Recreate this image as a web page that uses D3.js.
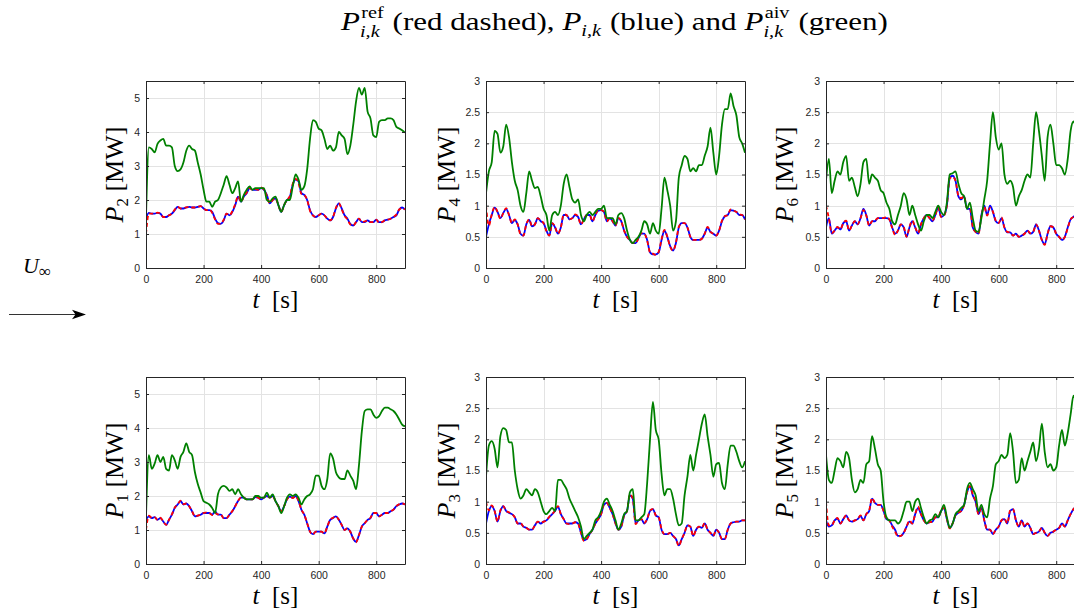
<!DOCTYPE html>
<html>
<head>
<meta charset="utf-8">
<script src="https://cdn.jsdelivr.net/npm/d3@7"></script>
<style>
  body { margin: 0; background: #fff; }
  svg { display: block; }
  text { white-space: pre; }
</style>
</head>
<body>
<svg id="fig" width="1074" height="609"></svg>
<script>
// ---- sample times (s) and tick definitions ----
const time = d3.range(0, 901, 10);
const timeTicks = [0, 200, 400, 600, 800];
const timeTickLabels = ["0", "200", "400", "600", "800"];
const powerTicksHigh = [0, 1, 2, 3, 4, 5];
const powerTickLabelsHigh = ["0", "1", "2", "3", "4", "5"];
const powerTicksLow = [0, 0.5, 1, 1.5, 2, 2.5, 3];
const powerTickLabelsLow = ["0", "0.5", "1", "1.5", "2", "2.5", "3"];

// ---- turbine 2 ----
const p2Aiv = [1.5,3.55,3.5,3.4,3.65,3.75,3.8,3.6,3.6,3.55,
  3.0,2.85,2.9,3.1,3.45,3.6,3.5,3.45,3.1,2.75,
  2.3,1.95,1.95,1.8,1.95,2.0,2.2,2.45,2.7,2.45,
  2.2,2.35,2.55,1.95,2.15,2.3,2.4,2.3,2.35,2.35,
  2.35,2.35,2.0,1.95,2.05,2.1,1.85,1.65,1.85,2.0,
  2.0,2.4,2.75,2.6,2.3,2.4,2.9,3.8,4.35,4.3,
  4.1,4.05,3.8,3.5,3.6,3.45,3.55,4.0,3.9,3.8,
  3.35,3.6,4.2,4.9,5.3,5.1,5.3,4.6,4.4,3.9,
  3.85,4.3,4.35,4.35,4.4,4.4,4.35,4.15,4.1,4.05,
  3.98];
const p2Power = [1.45,1.62,1.6,1.6,1.62,1.6,1.5,1.5,1.55,1.6,
  1.7,1.8,1.75,1.75,1.78,1.8,1.78,1.78,1.8,1.82,
  1.75,1.7,1.7,1.65,1.45,1.32,1.3,1.4,1.6,1.55,
  1.65,1.85,2.1,1.95,2.1,2.2,2.35,2.3,2.3,2.3,
  2.35,2.3,2.15,1.9,2.0,2.05,1.85,1.65,1.85,2.0,
  2.1,2.45,2.6,2.55,2.2,2.15,2.0,1.7,1.55,1.5,
  1.55,1.6,1.55,1.45,1.4,1.5,1.75,1.9,1.75,1.55,
  1.45,1.3,1.25,1.35,1.45,1.35,1.35,1.4,1.35,1.35,
  1.42,1.35,1.35,1.4,1.42,1.45,1.5,1.55,1.72,1.78,
  1.72];
const p2Ref = [1.0,1.6,1.6,1.6,1.63,1.6,1.5,1.5,1.55,1.6,
  1.72,1.8,1.75,1.76,1.78,1.8,1.78,1.78,1.8,1.82,
  1.75,1.7,1.72,1.62,1.43,1.3,1.3,1.42,1.6,1.55,
  1.67,1.88,2.12,1.95,2.1,2.22,2.35,2.3,2.32,2.3,
  2.37,2.3,2.12,1.9,2.0,2.05,1.85,1.65,1.85,2.0,
  2.12,2.48,2.62,2.5,2.18,2.15,2.0,1.68,1.55,1.5,
  1.55,1.6,1.55,1.45,1.4,1.5,1.77,1.9,1.73,1.53,
  1.43,1.28,1.25,1.35,1.45,1.35,1.37,1.4,1.35,1.36,
  1.42,1.33,1.35,1.4,1.42,1.45,1.5,1.57,1.72,1.76,
  1.72];

// ---- turbine 4 ----
const p4Aiv = [1.2,1.55,1.7,2.2,2.15,1.85,1.95,2.3,2.1,1.7,
  1.4,1.25,1.0,0.9,1.2,1.55,1.4,1.28,1.3,1.15,
  0.95,0.85,0.6,0.85,0.9,0.85,1.0,1.35,1.5,1.3,
  1.1,1.05,1.1,0.85,0.75,0.85,0.9,0.85,0.9,0.95,
  0.95,1.0,0.8,0.8,0.8,0.7,0.85,0.88,0.8,0.6,
  0.45,0.4,0.45,0.5,0.6,0.75,0.7,0.55,0.72,0.6,
  0.55,0.95,1.45,1.25,1.0,0.6,0.75,1.45,1.65,1.8,
  1.75,1.55,1.6,1.55,1.65,1.65,1.8,1.95,2.25,1.85,
  1.5,1.8,2.3,2.55,2.55,2.8,2.6,2.45,2.1,2.0,
  1.85];
const p4Power = [0.5,0.7,0.85,0.97,0.9,0.8,0.88,0.95,0.85,0.72,
  0.77,0.7,0.55,0.52,0.7,0.77,0.67,0.7,0.8,0.75,
  0.72,0.6,0.52,0.72,0.65,0.55,0.65,0.85,0.85,0.78,
  0.8,0.85,0.82,0.7,0.78,0.85,0.85,0.75,0.85,0.92,
  0.93,0.9,0.75,0.8,0.75,0.68,0.8,0.75,0.6,0.5,
  0.45,0.4,0.4,0.48,0.55,0.55,0.45,0.25,0.22,0.22,
  0.25,0.45,0.6,0.5,0.35,0.28,0.4,0.65,0.72,0.72,
  0.65,0.5,0.45,0.45,0.45,0.47,0.55,0.65,0.58,0.55,
  0.52,0.6,0.75,0.83,0.85,0.93,0.92,0.9,0.85,0.85,
  0.78];
const p4Ref = [1.0,0.68,0.86,0.98,0.9,0.79,0.88,0.96,0.85,0.72,
  0.78,0.7,0.54,0.52,0.7,0.78,0.67,0.7,0.8,0.76,
  0.72,0.59,0.52,0.72,0.66,0.55,0.65,0.86,0.85,0.78,
  0.8,0.86,0.82,0.7,0.78,0.85,0.85,0.75,0.85,0.93,
  0.93,0.9,0.75,0.8,0.75,0.68,0.8,0.75,0.6,0.5,
  0.45,0.4,0.4,0.48,0.56,0.55,0.44,0.25,0.23,0.21,
  0.26,0.46,0.61,0.5,0.34,0.28,0.41,0.66,0.72,0.72,
  0.65,0.5,0.45,0.45,0.45,0.47,0.55,0.66,0.58,0.55,
  0.52,0.6,0.76,0.83,0.85,0.94,0.92,0.9,0.86,0.85,
  0.78];

// ---- turbine 6 ----
const p6Aiv = [1.4,1.75,1.2,1.4,1.55,1.5,1.7,1.8,1.4,1.45,
  1.3,1.15,1.35,1.7,1.75,1.35,1.5,1.45,1.4,1.25,
  1.2,1.05,0.95,0.75,0.7,0.85,1.0,1.2,1.1,0.85,
  1.0,0.85,0.7,0.6,0.75,0.85,0.85,0.8,0.9,1.0,
  0.9,0.85,1.05,1.5,1.52,1.55,1.35,1.2,1.15,0.95,
  1.05,0.8,0.6,0.58,0.8,1.1,1.4,2.0,2.5,2.1,
  1.9,2.0,1.5,1.35,1.4,1.3,1.0,1.15,1.25,1.4,
  1.5,1.45,2.0,2.5,2.2,1.8,1.4,2.1,2.3,2.0,
  1.65,1.65,1.6,1.5,1.75,2.2,2.35,2.25,2.2,2.25,
  2.3];
const p6Power = [0.65,0.8,0.55,0.6,0.65,0.62,0.72,0.75,0.6,0.68,
  0.75,0.7,0.8,0.95,0.85,0.68,0.75,0.75,0.8,0.8,
  0.8,0.8,0.78,0.65,0.55,0.6,0.7,0.65,0.5,0.65,
  0.75,0.65,0.55,0.7,0.8,0.85,0.8,0.75,0.85,0.98,
  0.82,0.85,1.0,1.45,1.48,1.4,1.15,1.1,1.15,0.95,
  0.95,0.65,0.58,0.55,0.85,1.0,0.85,1.0,0.9,0.75,
  0.72,0.8,0.65,0.57,0.57,0.52,0.55,0.5,0.52,0.55,
  0.6,0.55,0.58,0.7,0.6,0.45,0.38,0.55,0.67,0.65,
  0.55,0.5,0.45,0.5,0.65,0.78,0.82,0.85,0.85,0.85,
  0.85];
const p6Ref = [1.0,0.8,0.56,0.6,0.66,0.62,0.72,0.76,0.6,0.68,
  0.75,0.7,0.8,0.93,0.84,0.68,0.75,0.76,0.8,0.8,
  0.8,0.82,0.78,0.64,0.53,0.6,0.7,0.66,0.5,0.66,
  0.76,0.65,0.56,0.7,0.8,0.85,0.8,0.76,0.85,0.97,
  0.82,0.84,1.0,1.44,1.46,1.4,1.16,1.12,1.15,0.96,
  0.96,0.66,0.58,0.55,0.84,0.98,0.84,0.97,0.9,0.76,
  0.72,0.81,0.65,0.58,0.57,0.52,0.55,0.5,0.52,0.55,
  0.6,0.56,0.58,0.7,0.6,0.45,0.37,0.55,0.67,0.65,
  0.55,0.5,0.45,0.5,0.64,0.78,0.82,0.84,0.85,0.85,
  0.85];

// ---- turbine 1 ----
const p1Aiv = [1.4,3.2,2.8,2.95,3.2,3.0,3.15,2.8,2.75,3.2,
  3.05,2.8,3.15,3.3,3.55,3.3,3.2,2.7,2.35,2.1,
  1.85,1.8,1.75,1.65,1.5,2.05,2.25,2.3,2.25,2.15,
  2.2,2.05,2.2,2.05,1.95,1.9,1.9,1.9,2.0,2.0,
  1.95,1.95,2.1,1.95,2.05,1.85,1.7,1.5,1.7,1.95,
  2.05,2.0,2.05,1.95,1.75,1.9,2.0,2.05,2.2,2.6,
  2.6,2.3,2.2,2.5,3.25,3.1,2.7,2.55,2.5,2.5,
  2.75,2.6,2.45,2.2,2.9,3.9,4.5,4.55,4.55,4.4,
  4.3,4.35,4.5,4.6,4.6,4.55,4.5,4.4,4.25,4.1,
  4.05];
const p1Power = [1.3,1.4,1.35,1.38,1.3,1.35,1.25,1.15,1.3,1.45,
  1.65,1.75,1.85,1.75,1.78,1.7,1.55,1.4,1.42,1.45,
  1.5,1.5,1.5,1.45,1.55,1.45,1.45,1.35,1.35,1.45,
  1.55,1.7,1.85,1.95,1.95,1.9,1.9,1.9,1.97,1.95,
  1.9,1.95,2.0,1.95,2.0,1.85,1.7,1.55,1.7,1.9,
  1.98,1.95,2.0,1.85,1.6,1.45,1.2,0.95,0.88,0.95,
  0.95,0.95,0.9,1.1,1.3,1.35,1.4,1.3,1.15,1.0,
  1.05,0.95,0.75,0.65,0.85,1.1,1.2,1.3,1.35,1.5,
  1.5,1.4,1.45,1.5,1.5,1.55,1.6,1.7,1.75,1.78,
  1.75];
const p1Ref = [1.0,1.42,1.36,1.38,1.3,1.36,1.25,1.15,1.3,1.46,
  1.66,1.75,1.86,1.76,1.78,1.7,1.55,1.4,1.42,1.46,
  1.5,1.52,1.5,1.44,1.5,1.46,1.46,1.34,1.35,1.45,
  1.56,1.7,1.86,1.95,1.95,1.9,1.9,1.9,1.97,1.95,
  1.9,1.96,2.02,1.95,2.0,1.85,1.7,1.55,1.7,1.9,
  1.98,1.94,2.0,1.86,1.6,1.45,1.2,0.95,0.87,0.95,
  0.95,0.95,0.9,1.1,1.3,1.36,1.4,1.3,1.15,1.0,
  1.05,0.95,0.75,0.64,0.85,1.1,1.2,1.3,1.36,1.5,
  1.5,1.4,1.45,1.5,1.5,1.55,1.6,1.7,1.76,1.78,
  1.75];

// ---- turbine 3 ----
const p3Aiv = [1.4,1.9,1.97,1.85,1.55,2.05,2.18,2.15,1.95,1.95,
  1.5,1.2,1.05,1.1,1.2,1.15,1.1,1.2,1.15,1.0,
  0.85,0.8,0.85,0.9,0.85,1.35,1.35,1.28,1.2,1.05,
  0.95,0.85,0.75,0.6,0.4,0.45,0.5,0.55,0.7,0.75,
  0.85,1.0,1.05,0.95,0.85,0.7,0.55,0.65,0.8,0.85,
  1.15,1.2,0.7,0.7,0.75,0.8,1.3,2.0,2.6,2.15,
  2.0,1.45,1.1,1.2,1.2,1.05,0.8,0.62,0.65,1.1,
  1.4,1.75,1.5,1.75,2.0,2.25,2.4,2.05,1.75,1.4,
  1.6,1.62,1.3,1.2,1.6,1.9,1.9,1.8,1.65,1.55,
  1.65];
const p3Power = [0.65,0.85,0.93,0.85,0.68,0.85,0.93,0.85,0.82,0.8,
  0.75,0.65,0.65,0.6,0.58,0.55,0.55,0.62,0.68,0.65,
  0.68,0.7,0.75,0.8,0.85,0.92,0.8,0.72,0.65,0.65,
  0.65,0.67,0.65,0.5,0.38,0.4,0.48,0.55,0.65,0.72,
  0.8,0.95,0.98,0.9,0.8,0.65,0.55,0.6,0.78,0.85,
  1.1,1.05,0.65,0.7,0.72,0.65,0.72,0.85,0.88,0.78,
  0.75,0.55,0.48,0.48,0.5,0.45,0.4,0.3,0.4,0.5,
  0.62,0.6,0.45,0.55,0.6,0.58,0.65,0.55,0.5,0.45,
  0.55,0.5,0.4,0.4,0.55,0.65,0.67,0.68,0.68,0.7,
  0.7];
const p3Ref = [1.0,0.86,0.94,0.85,0.68,0.86,0.93,0.85,0.83,0.8,
  0.75,0.65,0.66,0.6,0.58,0.55,0.55,0.62,0.68,0.66,
  0.68,0.7,0.76,0.8,0.86,0.93,0.8,0.72,0.65,0.64,
  0.65,0.67,0.65,0.5,0.37,0.4,0.48,0.55,0.65,0.72,
  0.8,0.96,0.98,0.9,0.8,0.65,0.55,0.6,0.78,0.85,
  1.12,1.05,0.64,0.7,0.72,0.66,0.72,0.86,0.88,0.78,
  0.75,0.56,0.48,0.48,0.5,0.45,0.4,0.29,0.4,0.5,
  0.62,0.6,0.45,0.55,0.6,0.58,0.66,0.55,0.5,0.45,
  0.55,0.5,0.4,0.4,0.55,0.65,0.67,0.68,0.68,0.7,
  0.7];

// ---- turbine 5 ----
const p5Aiv = [1.75,1.35,1.3,1.5,1.7,1.65,1.55,1.8,1.7,1.35,
  1.15,1.2,1.35,1.3,1.6,1.65,2.05,1.85,1.6,1.5,
  1.0,0.75,0.7,0.7,0.7,0.65,0.7,0.85,1.0,1.0,
  0.85,1.0,1.05,0.9,0.75,0.65,0.7,0.72,0.8,0.75,
  0.85,0.95,0.75,0.58,0.65,0.8,0.85,0.9,0.95,1.2,
  1.3,1.2,1.1,0.85,0.95,0.8,0.75,1.05,1.25,1.6,
  1.65,1.75,1.7,1.75,2.1,1.8,1.3,1.35,1.7,1.5,
  1.65,1.8,1.95,1.65,1.85,2.25,1.8,1.55,1.6,1.5,
  1.55,1.9,2.15,1.9,2.1,2.4,2.7,2.6,2.55,2.55,
  2.6];
const p5Power = [0.7,0.6,0.62,0.7,0.73,0.65,0.72,0.78,0.7,0.68,
  0.7,0.72,0.77,0.7,0.8,0.85,1.05,0.98,0.95,0.95,
  0.85,0.72,0.7,0.62,0.55,0.45,0.45,0.5,0.6,0.68,
  0.65,0.8,0.9,0.8,0.7,0.65,0.67,0.68,0.75,0.75,
  0.85,0.9,0.72,0.58,0.65,0.78,0.82,0.85,0.95,1.15,
  1.25,1.1,1.0,0.8,0.9,0.7,0.55,0.55,0.48,0.55,
  0.6,0.7,0.72,0.65,0.85,0.88,0.7,0.6,0.7,0.6,
  0.65,0.58,0.48,0.5,0.52,0.58,0.5,0.45,0.5,0.52,
  0.55,0.58,0.65,0.6,0.7,0.8,0.88,0.92,0.95,0.95,
  0.95];
const p5Ref = [1.0,0.62,0.62,0.7,0.74,0.65,0.72,0.78,0.7,0.68,
  0.7,0.72,0.78,0.7,0.8,0.86,1.06,0.98,0.95,0.95,
  0.85,0.72,0.7,0.6,0.52,0.44,0.45,0.5,0.6,0.7,
  0.65,0.8,0.92,0.8,0.7,0.65,0.67,0.68,0.75,0.76,
  0.86,0.9,0.72,0.57,0.65,0.78,0.82,0.85,0.95,1.15,
  1.25,1.12,1.0,0.8,0.9,0.7,0.55,0.55,0.48,0.55,
  0.6,0.7,0.73,0.65,0.86,0.88,0.7,0.6,0.7,0.6,
  0.65,0.58,0.48,0.5,0.52,0.58,0.5,0.45,0.5,0.52,
  0.55,0.58,0.65,0.6,0.7,0.8,0.88,0.92,0.95,0.95,
  0.95];

// ---- panel arrangement (turbine index, grid cell, axis range) ----
const panels = [
  { turbine: "2", col: 0, row: 0, yMax: 5.5, ticks: powerTicksHigh, labels: powerTickLabelsHigh, ref: p2Ref, power: p2Power, aiv: p2Aiv },
  { turbine: "4", col: 1, row: 0, yMax: 3,   ticks: powerTicksLow,  labels: powerTickLabelsLow,  ref: p4Ref, power: p4Power, aiv: p4Aiv },
  { turbine: "6", col: 2, row: 0, yMax: 3,   ticks: powerTicksLow,  labels: powerTickLabelsLow,  ref: p6Ref, power: p6Power, aiv: p6Aiv },
  { turbine: "1", col: 0, row: 1, yMax: 5.5, ticks: powerTicksHigh, labels: powerTickLabelsHigh, ref: p1Ref, power: p1Power, aiv: p1Aiv },
  { turbine: "3", col: 1, row: 1, yMax: 3,   ticks: powerTicksLow,  labels: powerTickLabelsLow,  ref: p3Ref, power: p3Power, aiv: p3Aiv },
  { turbine: "5", col: 2, row: 1, yMax: 3,   ticks: powerTicksLow,  labels: powerTickLabelsLow,  ref: p5Ref, power: p5Power, aiv: p5Aiv }
];

const colX = [146, 486, 826];
const rowY = [81, 377];
const ylabelOffset = [23, 31, 33];
const W = 259, H = 187;
const axisColor = "#262626";
const serif = "'Liberation Serif', 'Times New Roman', serif";
const sans = "'Liberation Sans', Arial, Helvetica, sans-serif";

const svg = d3.select("#fig");
const defs = svg.append("defs");
const x = d3.scaleLinear().domain([0, 900]).range([0, W]);

function styleAxis(sel) {
  sel.select(".domain").attr("stroke", axisColor).attr("stroke-width", 1);
  sel.selectAll(".tick line").attr("stroke", axisColor).attr("stroke-width", 1);
  sel.selectAll(".tick text").attr("fill", axisColor)
    .attr("font-family", sans).attr("font-size", 10.5);
}

panels.forEach((p, i) => {
  const g = svg.append("g")
    .attr("transform", `translate(${colX[p.col]},${rowY[p.row]})`);
  const y = d3.scaleLinear().domain([0, p.yMax]).range([H, 0]);

  // grid
  const grid = g.append("g").attr("stroke", "#e3e3e3").attr("stroke-width", 1)
    .attr("shape-rendering", "crispEdges");
  grid.selectAll("line.v").data(timeTicks.filter(t => t > 0)).join("line")
    .attr("x1", d => Math.round(x(d)) + 0.5).attr("x2", d => Math.round(x(d)) + 0.5)
    .attr("y1", 0).attr("y2", H);
  grid.selectAll("line.h").data(p.ticks.filter(t => t > 0 && t < p.yMax)).join("line")
    .attr("y1", d => Math.round(y(d)) + 0.5).attr("y2", d => Math.round(y(d)) + 0.5)
    .attr("x1", 0).attr("x2", W);

  // series, clipped to the axes box
  const clipId = "plotclip" + i;
  defs.append("clipPath").attr("id", clipId)
    .append("rect").attr("x", 0).attr("y", 0).attr("width", W).attr("height", H);
  const plot = g.append("g").attr("clip-path", `url(#${clipId})`);
  const line = d3.line().x((d, j) => x(time[j])).y(d => y(d)).curve(d3.curveMonotoneX);

  plot.append("path").datum(p.power).attr("d", line)
    .attr("fill", "none").attr("stroke", "#0000ff").attr("stroke-width", 1.8)
    .attr("stroke-linejoin", "round");
  plot.append("path").datum(p.ref).attr("d", line)
    .attr("fill", "none").attr("stroke", "#ff0000").attr("stroke-width", 1.8)
    .attr("stroke-dasharray", "4,3").attr("stroke-linejoin", "round");
  plot.append("path").datum(p.aiv).attr("d", line)
    .attr("fill", "none").attr("stroke", "#008000").attr("stroke-width", 1.8)
    .attr("stroke-linejoin", "round");

  // axes: labelled bottom/left, tick-only top/right
  g.append("g").attr("transform", `translate(0,${H})`)
    .call(d3.axisBottom(x).tickValues(timeTicks)
      .tickFormat((d, k) => timeTickLabels[k])
      .tickSizeInner(-3).tickSizeOuter(0).tickPadding(8))
    .call(styleAxis);
  g.append("g")
    .call(d3.axisLeft(y).tickValues(p.ticks)
      .tickFormat((d, k) => p.labels[k])
      .tickSizeInner(-3).tickSizeOuter(0).tickPadding(6))
    .call(styleAxis);
  g.append("g")
    .call(d3.axisTop(x).tickValues(timeTicks).tickFormat("")
      .tickSizeInner(-3).tickSizeOuter(0))
    .call(styleAxis);
  g.append("g").attr("transform", `translate(${W},0)`)
    .call(d3.axisRight(y).tickValues(p.ticks).tickFormat("")
      .tickSizeInner(-3).tickSizeOuter(0))
    .call(styleAxis);

  // y label: P_n [MW]
  const yl = g.append("text")
    .attr("transform", `translate(${-ylabelOffset[p.col]},${H / 2}) rotate(-90)`)
    .attr("text-anchor", "middle")
    .attr("font-family", serif).attr("font-size", 26).attr("fill", "#000");
  yl.append("tspan").attr("font-style", "italic").text("P");
  yl.append("tspan").attr("font-size", 17).attr("dy", 5).text(p.turbine);
  yl.append("tspan").attr("dy", -5).text(" [MW]");

  // x label: t [s]
  const xl = g.append("text")
    .attr("x", W / 2).attr("y", H + 40)
    .attr("text-anchor", "middle")
    .attr("font-family", serif).attr("font-size", 25).attr("fill", "#000");
  xl.append("tspan").attr("font-style", "italic").text("t");
  xl.append("tspan").text("  [s]");
});

// ---- title built from measured pieces (base text, stacked super/subscripts) ----
function mathLine(parent, parts, size, small) {
  const g = parent.append("g")
    .attr("font-family", serif).attr("fill", "#000");
  let cx = 0;
  parts.forEach(pt => {
    if (pt.sup !== undefined || pt.sub !== undefined) {
      let w = 0;
      if (pt.sup) {
        const t = g.append("text").attr("x", cx + 1).attr("y", -12)
          .attr("font-size", small).text(pt.sup);
        w = Math.max(w, t.node().getComputedTextLength() + 1);
      }
      if (pt.sub) {
        const t = g.append("text").attr("x", cx).attr("y", pt.sup ? 7 : 6)
          .attr("font-size", small).attr("font-style", "italic").text(pt.sub);
        w = Math.max(w, t.node().getComputedTextLength());
      }
      cx += w + 1;
    } else {
      const t = g.append("text").attr("x", cx).attr("y", 0)
        .attr("font-size", size).attr("font-style", pt.it ? "italic" : "normal")
        .text(pt.t);
      cx += t.node().getComputedTextLength();
    }
  });
  return { g, width: cx };
}

const titleParts = [
  { t: "P", it: true }, { sup: "ref", sub: "i,k" }, { t: " (red dashed), " },
  { t: "P", it: true }, { sub: "i,k" }, { t: " (blue) and " },
  { t: "P", it: true }, { sup: "aiv", sub: "i,k" }, { t: " (green)" }
];
const title = mathLine(svg, titleParts, 26, 17);
// widen the Times-like glyphs toward the broader book-serif proportions
const titleStretch = 547 / title.width;
title.g.attr("transform",
  `translate(${614.5 - titleStretch * title.width / 2},30) scale(${titleStretch},1)`);

// ---- free-stream wind marker ----
const wind = svg.append("text").attr("x", 23).attr("y", 273)
  .attr("font-family", serif).attr("font-size", 22).attr("fill", "#000");
wind.append("tspan").attr("font-style", "italic").text("U");
wind.append("tspan").attr("font-size", 17).attr("dy", 4).text("\u221E");

svg.append("line").attr("x1", 9).attr("x2", 78).attr("y1", 314.5).attr("y2", 314.5)
  .attr("stroke", "#333").attr("stroke-width", 1.2);
svg.append("path").attr("d", "M86,314.5 L72,309.8 L75.5,314.5 L72,319.2 Z")
  .attr("fill", "#000");
</script>
</body>
</html>
